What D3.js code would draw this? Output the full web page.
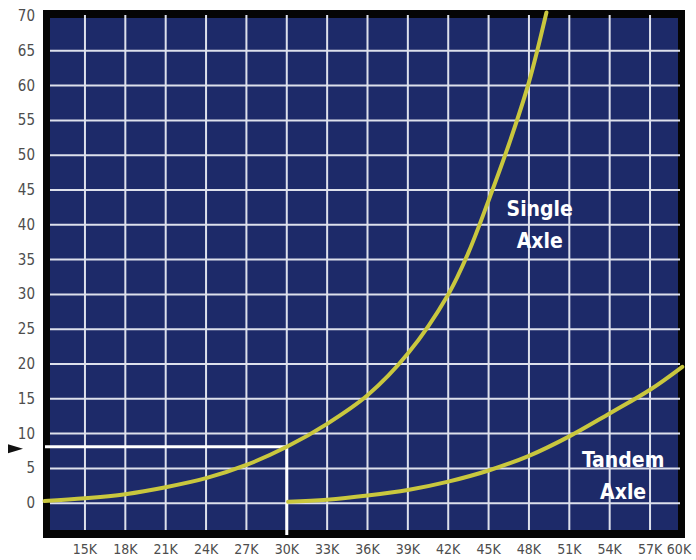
<!DOCTYPE html>
<html>
<head>
<meta charset="utf-8">
<script src="https://cdn.jsdelivr.net/npm/d3@7"></script>
<style>
  html, body { margin: 0; padding: 0; background: #ffffff; }
  svg { display: block; }
</style>
</head>
<body>
<svg id="chart" width="696" height="560"></svg>
<script>
// ---- data ----
const xTicks = [15, 18, 21, 24, 27, 30, 33, 36, 39, 42, 45, 48, 51, 54, 57, 60];
const xTickLabels = ["15K", "18K", "21K", "24K", "27K", "30K", "33K", "36K", "39K", "42K", "45K", "48K", "51K", "54K", "57K", "60K"];
const yTicks = [0, 5, 10, 15, 20, 25, 30, 35, 40, 45, 50, 55, 60, 65, 70];
const xGrid = [15, 18, 21, 24, 27, 30, 33, 36, 39, 42, 45, 48, 51, 54, 57];
const yGrid = [0, 5, 10, 15, 20, 25, 30, 35, 40, 45, 50, 55, 60, 65];

const singleK = [12, 15, 18, 21, 24, 27, 30, 33, 36, 39, 42, 43.5, 45, 46.5, 48, 49.3];
const singleV = [0.3, 0.7, 1.3, 2.3, 3.6, 5.5, 8.1, 11.4, 15.5, 21.5, 30, 36, 43.5, 51.5, 60.5, 70.5];
const tandemK = [30.1, 33, 36, 39, 42, 45, 48, 51, 54, 57, 59.4];
const tandemV = [0.2, 0.5, 1.1, 1.9, 3.1, 4.7, 6.8, 9.6, 12.9, 16.3, 19.6];

const refK = 30;
const refV = 8.1;

const seriesLabels = [
  { lines: ["Single", "Axle"], k: 48.8, v: 41.3 },
  { lines: ["Tandem", "Axle"], k: 55.0, v: 5.2 }
];

// ---- layout ----
const svg = d3.select("#chart");
const x = d3.scaleLinear().domain([12, 60]).range([44.6, 690.4]);
const y = d3.scaleLinear().domain([-5, 70]).range([538, 16]);

const frame = { x0: 43, x1: 685, y0: 10, y1: 538 };
const inner = { x0: 50, x1: 678, y0: 18, y1: 530 };

const navy = "#1d2a69";
const gridColor = "#dde0ec";
const curveColor = "#c9c73e";
const labelFont = "'Liberation Sans Narrow', 'DejaVu Sans Condensed', 'Arial Narrow', sans-serif";

// frame
svg.append("rect")
  .attr("x", frame.x0).attr("y", frame.y0)
  .attr("width", frame.x1 - frame.x0).attr("height", frame.y1 - frame.y0)
  .attr("fill", "#050505");
svg.append("rect")
  .attr("x", inner.x0).attr("y", inner.y0)
  .attr("width", inner.x1 - inner.x0).attr("height", inner.y1 - inner.y0)
  .attr("fill", navy);

// grid
svg.append("g").selectAll("line").data(yGrid).join("line")
  .attr("x1", inner.x0).attr("x2", inner.x1 + 2)
  .attr("y1", d => y(d)).attr("y2", d => y(d))
  .attr("stroke", gridColor).attr("stroke-width", 2);
svg.append("g").selectAll("line").data(xGrid).join("line")
  .attr("x1", d => x(d)).attr("x2", d => x(d))
  .attr("y1", 15).attr("y2", inner.y1)
  .attr("stroke", gridColor).attr("stroke-width", 2);

// y tick labels
svg.append("g").selectAll("text").data(yTicks).join("text")
  .attr("x", 35).attr("y", d => y(d))
  .attr("text-anchor", "end").attr("dominant-baseline", "central")
  .attr("font-family", labelFont).attr("font-size", 15)
  .attr("fill", "#4d4d4d")
  .text(d => d);

// x tick labels
svg.append("g").selectAll("text").data(xTicks).join("text")
  .attr("x", d => Math.min(x(d), 679))
  .attr("y", 554)
  .attr("text-anchor", "middle")
  .attr("font-family", labelFont).attr("font-size", 14)
  .attr("fill", "#4d4d4d")
  .text((d, i) => xTickLabels[i]);

// reference lines
svg.append("line")
  .attr("x1", 45).attr("x2", x(refK))
  .attr("y1", y(refV)).attr("y2", y(refV))
  .attr("stroke", "#ffffff").attr("stroke-width", 3);
svg.append("line")
  .attr("x1", x(refK)).attr("x2", x(refK))
  .attr("y1", y(refV) - 1.5).attr("y2", 535)
  .attr("stroke", "#ffffff").attr("stroke-width", 3);

// arrow marker
const ay = y(refV) + 2;
svg.append("path")
  .attr("d", `M8,${ay - 4.5} L23,${ay} L8,${ay + 4.5} Z`)
  .attr("fill", "#111");

// curves
const line = d3.line()
  .x(d => x(d[0])).y(d => y(d[1]))
  .curve(d3.curveCatmullRom.alpha(0.5));

svg.append("path")
  .datum(singleK.map((k, i) => [k, singleV[i]]))
  .attr("d", line)
  .attr("fill", "none").attr("stroke", curveColor)
  .attr("stroke-width", 4).attr("stroke-linecap", "round");

svg.append("path")
  .datum(tandemK.map((k, i) => [k, tandemV[i]]))
  .attr("d", line)
  .attr("fill", "none").attr("stroke", curveColor)
  .attr("stroke-width", 4).attr("stroke-linecap", "round");

// series labels
seriesLabels.forEach(s => {
  const t = svg.append("text")
    .attr("x", x(s.k)).attr("y", y(s.v))
    .attr("text-anchor", "middle")
    .attr("font-family", labelFont).attr("font-weight", "bold")
    .attr("font-size", 21).attr("fill", "#ffffff");
  s.lines.forEach((ln, i) => {
    t.append("tspan").attr("x", x(s.k)).attr("dy", i === 0 ? 0 : 32).text(ln);
  });
});
</script>
</body>
</html>
